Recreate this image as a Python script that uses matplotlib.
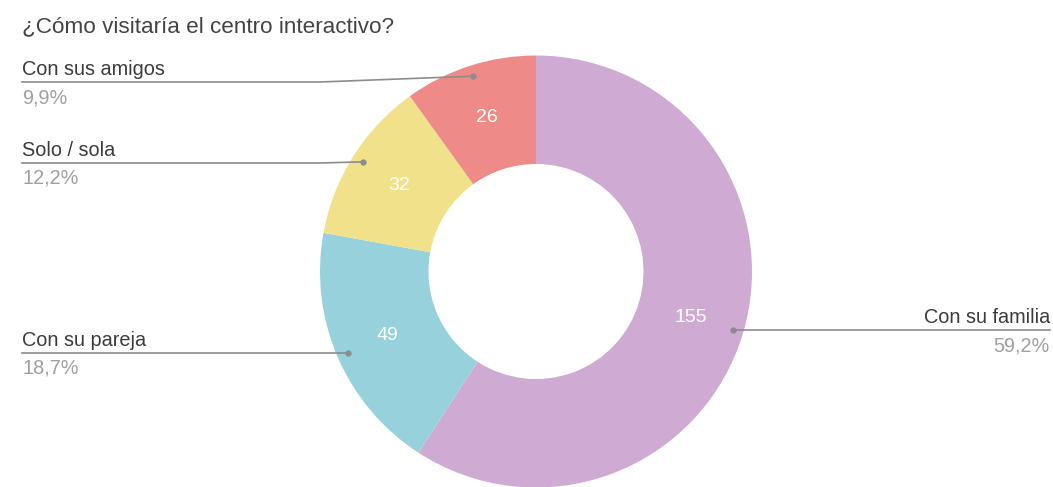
import numpy as np
import matplotlib.pyplot as plt

# Datos de la encuesta
categorias = ['Con su familia', 'Con su pareja', 'Solo / sola', 'Con sus amigos']
respuestas = [155, 49, 32, 26]
porcentajes = ['59,2%', '18,7%', '12,2%', '9,9%']

colores = ['#cfabd3', '#97d1dc', '#f2e18b', '#ee8a87']

plt.rcParams['font.family'] = ['Liberation Sans', 'DejaVu Sans']

W, H = 1053, 487
fig = plt.figure(figsize=(W / 100, H / 100), dpi=100)
ax = fig.add_axes([0, 0, 1, 1])

# centro y radios del anillo en pixeles (y hacia arriba)
cx, cy = 536, H - 271.5
R, r_in = 216, 107.5

wedges, _ = ax.pie(respuestas, colors=colores, startangle=90, counterclock=False,
                   center=(cx, cy), radius=R, frame=True,
                   wedgeprops=dict(width=R - r_in, linewidth=0))

ax.set_xlim(0, W)
ax.set_ylim(0, H)
ax.set_aspect('auto')
ax.axis('off')

# altura (en pixeles desde arriba) de la linea de cada etiqueta
linea_y = [330, 353, 163, 82]
gris = '#8c8c8c'
fs = 14.3

for w, cat, n, pct, ly in zip(wedges, categorias, respuestas, porcentajes, linea_y):
    ang = np.deg2rad((w.theta1 + w.theta2) / 2)
    # valor dentro del anillo
    tx = cx + (R + r_in) / 2 * np.cos(ang)
    ty = cy + (R + r_in) / 2 * np.sin(ang)
    ax.text(tx, ty, str(n), color='white', fontsize=14, ha='center', va='center')
    # punto del conector
    dx = cx + 0.95 * R * np.cos(ang)
    dy = cy + 0.95 * R * np.sin(ang)
    yl = H - ly
    ax.plot(dx, dy, 'o', color=gris, markersize=3.5, zorder=5)
    if dx > cx:
        ax.plot([dx, 1050], [yl, yl], color=gris, lw=1.2)
        ax.text(1050, yl + 3, cat, color='#3c3c3c', fontsize=fs, ha='right', va='bottom')
        ax.text(1050, yl - 6, pct, color='#a0a0a0', fontsize=fs, ha='right', va='top')
    else:
        if abs(dy - yl) > 1:
            ax.plot([22, 320, dx], [yl, yl, dy], color=gris, lw=1.2)
        else:
            ax.plot([22, dx], [yl, yl], color=gris, lw=1.2)
        ax.text(22, yl + 3, cat, color='#3c3c3c', fontsize=fs, ha='left', va='bottom')
        ax.text(22, yl - 6, pct, color='#a0a0a0', fontsize=fs, ha='left', va='top')

fig.text(22 / W, 1 - 27 / H, '¿Cómo visitaría el centro interactivo?', color='#444444',
         fontsize=16.2, ha='left', va='center')

fig.savefig('out.png', dpi=100)
